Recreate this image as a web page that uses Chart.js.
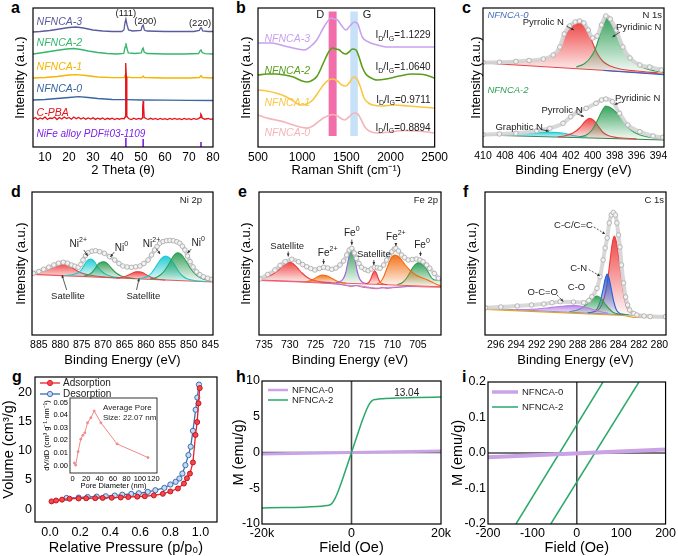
<!DOCTYPE html>
<html><head><meta charset="utf-8">
<script src="https://cdn.jsdelivr.net/npm/chart.js@4.4.1/dist/chart.umd.min.js"></script>
<style>
html,body{margin:0;padding:0;background:#fff;}
body{width:678px;height:556px;position:relative;overflow:hidden;font-family:"Liberation Sans",Arial,sans-serif;}
canvas{position:absolute;}
.pl{position:absolute;font-weight:bold;font-size:16px;line-height:16px;color:#000;}
</style></head><body>
<div class="pl" style="left:11px;top:0px">a</div>
<div class="pl" style="left:236px;top:0px">b</div>
<div class="pl" style="left:462px;top:0px">c</div>
<div class="pl" style="left:11px;top:184px">d</div>
<div class="pl" style="left:238px;top:184px">e</div>
<div class="pl" style="left:463px;top:184px">f</div>
<div class="pl" style="left:12px;top:369px">g</div>
<div class="pl" style="left:236px;top:369px">h</div>
<div class="pl" style="left:462px;top:369px">i</div>
<script>
// ---------------- DATA ----------------
// (a) XRD
const A_TICKS = [10,20,30,40,50,60,70,80];
const A_NFNCA3 = [[5,115],[8,115.5],[12,116.5],[16,118],[20,119.5],[23,120],[26,119],[30,117],[34,116],[38,115.5],[42,115.5],[42.9,117],[43.3,124],[43.7,128],[44.2,122],[44.8,117],[46.5,116],[50,116.5],[50.5,121],[50.9,122],[51.4,117],[52.5,116],[60,115.5],[66,115.5],[72,115.5],[74.3,116.5],[74.8,119],[75.2,119],[75.7,116],[78,115.5],[80,115.5]];
const A_NFNCA2 = [[5,93],[8,94],[12,95.5],[16,97],[19,98],[22,98.5],[25,97.5],[28,96],[32,94.5],[36,93.5],[40,93],[42.8,93.5],[43.4,100],[43.7,104],[44.1,99],[44.7,94],[47.5,93.5],[50.1,94],[50.6,98],[50.9,99],[51.3,95],[52.5,93.5],[60,93],[68,93],[74,93.5],[74.6,96],[75,97],[75.5,94.5],[76.5,93.3],[80,93]];
const A_NFNCA1 = [[5,69],[10,69.5],[15,70.5],[20,72],[23,72.3],[27,71.5],[32,70],[38,69.3],[43,69.5],[43.6,73],[44.1,70],[46,69.3],[50.4,69.5],[50.9,71],[51.4,69.5],[60,69],[70,69],[74.4,69.5],[75,71.5],[75.6,69.5],[80,69]];
const A_NFNCA0 = [[5,47],[10,47.5],[15,48.5],[20,49.5],[24,50.3],[28,49.5],[32,48.5],[38,47.5],[44,47.3],[50,47],[60,46.8],[70,46.7],[80,46.5]];
const A_CPBA = [[5,28],[6,29.5],[7,27.5],[8,29],[9,28],[10,30],[11,27.5],[12,29],[13,28.5],[14,30],[15,27.5],[16,29.5],[17,28],[18,30],[19,28.5],[20,29.5],[21,27.8],[22,30],[23,28.3],[24,29.5],[25,28],[26,29.3],[27,27.8],[28,29],[29,28],[30,29.2],[31,27.6],[32,28.8],[33,27.8],[34,29],[35,27.5],[36,28.7],[37,27.8],[38,28.8],[39,27.5],[40,28.6],[41,27.8],[42,28.5],[43,28.2],[43.35,30],[43.55,70],[43.7,84],[43.9,70],[44.1,31],[44.8,28.5],[46,27.5],[47,28.8],[48,27.6],[49,28.5],[50,27.8],[50.5,29],[50.7,40],[50.9,46],[51.1,40],[51.35,29.5],[52.5,28],[53,27.6],[54,28.7],[55,27.6],[56,28.6],[57,27.5],[58,28.5],[59,27.7],[60,28.4],[61,27.5],[62,28.6],[63,27.6],[64,28.5],[65,27.6],[66,28.4],[67,27.5],[68,28.6],[69,27.6],[70,28.4],[71,27.5],[72,28.5],[73,27.6],[74,28.4],[74.6,29.5],[74.9,33],[75.2,32],[75.5,29],[76.5,27.8],[78,28.5],[79,27.6],[80,28.2]];
const A_STICK_X = [43.7,50.9,75.0];
const A_STICK_H = [9,8,5];

// (b) Raman
const B_TICKS = [500,1000,1500,2000,2500];
const B_NFNCA3 = [[500,104],[650,104],[800,101],[950,98],[1020,97],[1100,101],[1165,107],[1240,119],[1300,127],[1330,129],[1360,128],[1400,127],[1450,121],[1495,117],[1540,121],[1590,125],[1630,123],[1660,115],[1680,110],[1750,105],[1850,102],[1950,100],[2100,100],[2300,100],[2500,100]];
const B_NFNCA2 = [[500,72],[600,73],[700,73],[800,72],[900,70],[1000,66],[1060,65],[1120,67],[1170,71],[1240,84],[1300,95],[1345,99],[1380,98],[1420,97],[1460,94],[1495,93],[1530,95],[1570,98],[1610,97],[1640,91],[1680,80],[1720,73],[1760,70],[1850,67],[1950,68],[2100,71],[2250,73],[2400,72],[2500,69]];
const B_NFNCA1 = [[500,57],[600,56],[700,54],[800,51],[900,46],[980,42],[1050,43],[1120,47],[1170,53],[1240,62],[1300,67],[1345,68],[1400,66],[1450,62],[1495,61],[1540,65],[1580,70],[1620,68],[1660,60],[1700,49],[1750,44],[1800,42],[1900,41],[2050,42],[2200,41],[2350,40],[2500,39]];
const B_NFNCA0 = [[500,32],[600,29],[700,27],[800,25],[900,22],[1000,19.5],[1060,19],[1120,21],[1180,25],[1240,29],[1300,31.5],[1345,32.5],[1400,31],[1450,28],[1480,27],[1530,30],[1585,34],[1630,33],[1670,27],[1710,20],[1760,16],[1850,14],[2000,15],[2150,16.5],[2300,16],[2500,14]];
const B_RATIOS = ['1.1229','1.0640','0.9711','0.8894'];

// (c) N 1s
const C_TICKS = [410,408,406,404,402,400,398,396,394];
const C0_BASE = [[410,84],[393.5,73]];
const C0_BLUE = [[399,76.5],[393.5,72.2]];
const C0_PYRROLIC = [[410,84.3],[407,85],[405,86.5],[404.2,88.5],[403.6,92],[403.0,99],[402.6,110],[402.1,119],[401.6,124],[401.2,125.3],[400.8,123],[400.4,116],[400.0,104],[399.6,94],[399.1,86],[398.4,81],[397.5,78],[396,76],[394,74]];
const C0_PYRIDINIC = [[401.5,80],[400.8,83],[400.3,88],[399.8,97],[399.4,110],[399.1,122],[398.8,130],[398.4,126],[397.9,116],[397.3,102],[396.7,90],[396,83],[395.2,78.5],[394.3,76],[393.5,74.5]];
const C0_ENV = [[410,84.5],[408.5,84.8],[407,85.5],[405.8,86.5],[404.5,88],[403.6,92],[403.0,100],[402.6,113],[402.1,121],[401.6,125],[401.2,126],[400.8,124],[400.4,117],[400.0,109],[399.6,111],[399.2,122],[398.8,131],[398.4,128],[397.85,117],[397.25,100],[396.6,89],[395.7,82],[394.8,80],[393.75,77]];
const C2_BASE = [[410,12],[393.5,7]];
const C2_GRAPHITIC = [[408.5,12],[407.5,12.6],[406.5,13.5],[405.5,14.4],[404.2,15],[403.2,14.5],[402.3,13],[401.5,11],[400.5,9.8]];
const C2_PYRROLIC = [[403.2,10.2],[402.5,11.3],[401.8,14],[401.2,19],[400.7,25.5],[400.3,28.7],[399.9,26.5],[399.5,21],[399.1,15],[398.6,11.5],[397.8,9.5],[396,8.2]];
const C2_PYRIDINIC = [[401.2,10],[400.5,12.5],[400,18],[399.6,26],[399.2,35],[398.8,41],[398.4,39.5],[397.9,35],[397.5,30],[397,22.5],[396.5,17],[395.8,12.5],[394.8,9.8],[393.5,8]];
const C2_ENV = [[410,12.3],[408.5,13],[407,13.7],[405.1,16.3],[403.9,18.7],[402.7,23.7],[402.0,30.3],[401.35,35.3],[400.6,38.7],[399.7,43.7],[399.2,47],[398.8,48],[398.2,45.3],[397.55,33.7],[396.8,22],[395.7,15.3],[394.5,11],[393.6,9.7]];

// (d) Ni 2p
const D_TICKS = [885,880,875,870,865,860,855,850,845];
const D_BASE = [[886.6,60.6],[844.35,53]];
const D_SAT1 = [[886.6,61.5],[885,63],[883.5,65.2],[882,67.8],[880.8,70.3],[879.7,71.7],[878.7,71],[877.7,68.8],[876.5,65.3],[875,62],[873,59.8],[870,58.2],[866,57]];
const D_NI2A = [[879,59.5],[877,60.5],[876,62],[875.2,64.5],[874.5,69],[873.9,73.5],[873.4,75.6],[872.9,76],[872.4,75],[871.8,72],[871.1,67.5],[870.3,63.5],[869.3,60.5],[868,58.5],[866,57.3]];
const D_NI0A = [[874.5,58.8],[873.5,60],[872.6,62.5],[871.8,67],[871,71.5],[870.4,73],[869.8,73.3],[869.2,72],[868.5,69],[867.7,65],[866.8,61.5],[865.8,59],[864.5,57.5],[862.5,56.5]];
const D_SAT2 = [[867,57],[865.5,57.8],[864.3,59.5],[863.2,61.8],[862.3,63.2],[861.5,63.3],[860.7,62.2],[859.8,60],[858.8,57.8],[857.5,56],[855.5,55]];
const D_NI2B = [[862,56.2],[860.5,57.3],[859.5,59],[858.6,62.5],[857.8,67.5],[857,73],[856.2,77.3],[855.4,79],[854.6,77.5],[853.8,73.5],[853,68],[852.2,62.5],[851.3,58.5],[850.3,56],[848.5,54.3],[846,53.5]];
const D_NI0B = [[859,56.2],[857.8,57.3],[856.8,59.5],[855.8,63.5],[855,68.5],[854.2,74.5],[853.5,79.5],[852.7,82.3],[851.9,81],[851.1,77],[850.3,71.5],[849.5,66],[848.6,61.3],[847.6,58],[846.5,55.7],[845.3,54.3],[844.35,53.8]];
const D_ENV = [[886.3,61.7],[885,63.5],[883.9,65.7],[882.7,67.8],[881.5,70],[880.4,71.8],[879.3,72.7],[878.3,71.8],[877.4,70],[876.6,68.8],[875.8,67.7],[875.2,70.5],[874.7,75],[874.1,79.5],[873.5,82.3],[872.6,83.8],[871.8,84.3],[870.8,83.3],[869.7,81.7],[868.5,78.3],[867.3,75],[866.3,71.5],[865.4,69],[864.4,68],[863.4,67.7],[862.4,68.2],[861.4,69],[860.5,71.5],[859.5,75],[858.7,80],[858.0,85],[857.4,88.5],[856.8,91.7],[856.0,93.5],[855.2,94.3],[854.4,94.6],[853.6,94.3],[852.8,93.3],[852.1,91.7],[851.5,88.8],[850.9,85],[850.3,79],[849.7,73.3],[849.0,68],[848.2,63.3],[847.4,60.3],[846.6,58.3],[845.6,56.8],[844.6,55.7]];

// (e) Fe 2p
const E_TICKS = [735,730,725,720,715,710,705];
const E_BASE = [[736,55],[700.5,48.3]];
const E_RESID1 = [[736,54.5],[732,53.8],[728,53],[724,52],[721,51.2],[719,49.5],[718,48.5],[717,49.5],[716,48],[714.5,47],[713,46.2],[712,47.5],[711,46.5],[710,47.2],[708.5,47.8],[707,48.5],[705,48.3],[703,48],[700.5,47.8]];
const E_RESID2 = [[724,52.2],[720,50.5],[718,49.5],[716,49],[714,47.3],[712.5,46.8],[711,47.6],[709,48],[706,48.6]];
const E_SAT1 = [[736,55.8],[735,57],[734,59],[733,62],[732,66],[731.2,70.5],[730.3,73.3],[729.4,71.5],[728.5,67],[727.6,62],[726.7,58],[725.6,55],[724,53.3],[722,52.5]];
const E_FE2A = [[727,53.3],[726,54.3],[725.2,56.3],[724.4,58.8],[723.6,60],[722.8,59.3],[722,57.3],[721.2,55],[720.3,53],[719,52]];
const E_FE0A = [[721,52.2],[720.2,53.3],[719.6,56],[719.1,62],[718.7,72],[718.3,81.5],[717.95,85],[717.6,82],[717.2,73],[716.8,63],[716.4,56.5],[715.9,53],[715,51.5]];
const E_SAT2 = [[715.2,51.2],[714.6,52.5],[714.2,56],[713.8,61.5],[713.45,64.3],[713.1,62],[712.8,57.5],[712.4,53],[711.8,51],[711,50.4]];
const E_FE2B = [[713,51],[712.3,53],[711.7,58],[711.1,66],[710.5,74],[709.9,79],[709.4,80],[708.8,78.5],[708.1,74.5],[707.3,69],[706.4,64],[705.4,60],[704.3,57.5],[703.3,55.5],[702.3,53],[701.3,50.5],[700.5,49.2]];
const E_FE0B = [[709,50.3],[708,52.5],[707.2,57],[706.4,64],[705.7,69.5],[705,72.3],[704.3,71.5],[703.6,68],[702.9,62],[702.3,57],[701.7,55],[701,55],[700.5,55]];
const E_ENV = [[735.8,56],[734.3,60.5],[732.9,65],[731.9,69.5],[730.9,73.3],[729.6,75.7],[728.3,73.3],[727.5,70.5],[726.7,68.3],[725.9,66.5],[725.1,65],[724.2,66.5],[723.4,67.7],[722.6,67],[721.8,65.7],[721,67],[720.2,70],[719.5,74],[718.9,80],[718.4,85],[717.9,86.7],[717.4,82],[717.0,76.7],[716.5,71.5],[716.0,67.7],[715.3,65.5],[714.7,64.3],[714.1,66],[713.5,67.7],[712.9,67.3],[712.4,66.7],[711.7,70],[711.1,75],[710.6,79.5],[710.1,83.3],[709.6,86],[709.3,86.7],[708.8,84],[708.2,80],[707.6,77.5],[706.9,75],[706.1,75.5],[705.3,76],[704.6,75],[704,73.3],[703.3,70],[702.7,66.7],[701.8,61.5],[701,56.7]];

// (f) C 1s
const F_TICKS = [296,294,292,290,288,286,284,282,280];
const F_BASE = [[297.05,26.7],[279.35,18.3]];
const F_BASE2 = [[297.05,25.6],[283.5,19.5],[282.5,17.6],[279.35,17.2]];
const F_CC = [[287,22.3],[286.3,23.5],[285.8,27],[285.4,37],[285.1,52],[284.85,72],[284.6,92],[284.4,99],[284.2,93],[283.95,76],[283.7,56],[283.45,38],[283.2,28],[282.9,23],[282.4,20.8],[281.5,20.2]];
const F_CN = [[287,22.2],[286.5,23],[286.1,26],[285.8,33],[285.5,46],[285.3,56],[285.1,61],[284.9,56],[284.7,46],[284.45,33],[284.2,25],[283.9,21.8],[283.3,20.5]];
const F_CO = [[288.8,23.5],[288.2,24.5],[287.6,27],[287.1,31],[286.6,36],[286.1,39],[285.7,36.5],[285.3,31],[284.9,26],[284.5,22.5],[284,21],[283,20.3]];
const F_OCO = [[294,25.3],[293,25.5],[292,26],[291,27],[290,28.3],[289,29.2],[288.3,29.5],[287.6,28.8],[287,27.2],[286.4,25.3],[285.7,23.2],[285,21.6]];
const F_ENV = [[297,27.3],[295.5,28],[293.9,29],[292.5,30],[291.3,31],[290.5,32.3],[289.7,33.3],[288.4,33],[287.4,32.3],[286.9,34.5],[286.6,38.3],[286.1,46.7],[285.8,58.3],[285.5,75],[285.3,87],[285.1,97],[284.9,112],[284.7,120],[284.5,122.5],[284.3,120],[284.15,112],[284.0,100],[283.85,88],[283.7,70],[283.5,52],[283.3,38],[283.1,30],[282.9,25],[282.5,21.5],[282.2,20],[281.5,19],[280.9,18.5],[279.4,18.3]];

// (g) N2 isotherm + inset
const G_XTICKS = [0,0.2,0.4,0.6,0.8,1.0];
const G_YTICKS = [0,5,10,15,20];
const ADS_P = [0.01,0.04,0.08,0.13,0.19,0.24,0.30,0.35,0.41,0.47,0.52,0.58,0.63,0.69,0.75,0.80,0.85,0.89,0.91,0.93,0.95,0.967,0.978,0.987,0.995];
const ADS_V = [1.35,1.5,1.65,1.8,1.85,1.88,1.9,1.95,1.98,2.02,2.1,2.16,2.23,2.38,2.65,3.05,3.55,4.4,5.3,6.1,8.0,12.7,14.9,18.1,20.7];
const DES_P = [0.11,0.19,0.25,0.31,0.37,0.43,0.48,0.54,0.59,0.65,0.70,0.76,0.80,0.835,0.86,0.88,0.90,0.92,0.935,0.95,0.968,0.979,0.99];
const DES_V = [1.94,2.0,2.1,2.17,2.23,2.34,2.5,2.63,2.74,2.97,3.26,3.66,4.23,4.69,5.26,6.11,7.54,9.26,10.7,13.4,17.0,19.1,21.3];
const PORE_D = [2.5,4.5,8,12,15,18,22,27,32,42,66,112];
const PORE_DV = [0.002,0.0003,0.011,0.021,0.024,0.026,0.034,0.038,0.0435,0.034,0.0172,0.0063];
const INSET_XTICKS = [0,20,40,60,80,100,120];
const INSET_YTICKS = [0,0.01,0.02,0.03,0.04,0.05];

// (h), (i) magnetization
const H_XTICKS = [-20000,0,20000];
const H_YTICKS = [-10,-5,0,5,10];
const H_NFNCA0 = [[-20000,-0.2],[20000,0.2]];
const H_NFNCA2 = [[-20000,-7.75],[-15000,-7.7],[-10000,-7.62],[-7000,-7.52],[-5500,-7.42],[-4600,-7.25],[-4000,-6.8],[-3300,-5.9],[-2500,-4.6],[-1500,-2.8],[-500,-0.95],[0,0],[500,0.95],[1500,2.8],[2500,4.6],[3300,5.9],[4000,6.8],[4600,7.25],[5500,7.42],[7000,7.52],[10000,7.62],[15000,7.7],[20000,7.75]];
const I_XTICKS = [-200,-100,0,100,200];
const I_YTICKS = [-0.2,-0.1,0,0.1,0.2];
const I_NFNCA0 = [[-200,-0.012],[200,0.010]];
const I_NFNCA2_UP = [[-137,-0.2],[59,0.2]];
const I_NFNCA2_DN = [[-58.6,-0.2],[140,0.2]];

// ---------------- HELPERS ----------------
const F = '"Liberation Sans", Arial, Helvetica, sans-serif';
const ANNO = {};
const P = a => a.map(p => ({x:p[0], y:p[1]}));
function rgba(hex,a){const n=parseInt(hex.slice(1),16);return 'rgba('+((n>>16)&255)+','+((n>>8)&255)+','+(n&255)+','+a+')';}
function gradFill(col, top, bot){
  return (c)=>{ const ch=c.chart, ca=ch.chartArea; if(!ca||!ch.scales||!ch.scales.y) return rgba(col,0.5);
    const y=ch.scales.y, y0=y.getPixelForValue(top), y1=y.getPixelForValue(bot)+1;
    const g=ch.ctx.createLinearGradient(0,y0,0,y1);
    g.addColorStop(0,rgba(col,0.95)); g.addColorStop(0.55,rgba(col,0.45)); g.addColorStop(1,rgba(col,0.03));
    return g; };
}
function line(data,col,w,extra){return Object.assign({data:P(data),showLine:true,borderColor:col,borderWidth:w,pointRadius:0,fill:false,tension:0},extra||{});}
function smooth(data,col,w,extra){return line(data,col,w,Object.assign({cubicInterpolationMode:'monotone'},extra||{}));}
function comp(data,col,base,lineCol){
  const ys=data.map(p=>p[1]);
  return {data:P(data),showLine:true,borderColor:lineCol||col,borderWidth:1.1,pointRadius:0,cubicInterpolationMode:'monotone',
    fill:{target:base},backgroundColor:gradFill(col,Math.max(...ys),Math.min(...ys))};
}
function env(data){return {data:P(data),showLine:true,borderColor:'rgba(214,214,214,0.95)',borderWidth:4,pointRadius:2.3,
  pointBackgroundColor:'#f2f2f2',pointBorderColor:'#a8a8a8',pointBorderWidth:0.8,cubicInterpolationMode:'monotone',fill:false};}

function drawRich(ctx,t,x,y,o){
  const size=o.size||10, it=o.italic?'italic ':'';
  const segs=(typeof t==='string')?[[t]]:t;
  const fontFor=s=>it+(s[1]?(size*0.7).toFixed(1):size)+'px '+F;
  let w=0; segs.forEach(s=>{ctx.font=fontFor(s); w+=ctx.measureText(s[0]).width;});
  let sx=o.align==='center'?x-w/2:o.align==='right'?x-w:x;
  ctx.fillStyle=o.color||'#222'; ctx.textBaseline='middle'; ctx.textAlign='left';
  segs.forEach(s=>{ctx.font=fontFor(s); const dy=s[1]==='sup'?-size*0.38:s[1]==='sub'?size*0.3:0;
    ctx.fillText(s[0],sx,y+dy); sx+=ctx.measureText(s[0]).width;});
}
function arrowTo(ctx,x1,y1,x2,y2,dash){
  ctx.save(); ctx.strokeStyle='#333'; ctx.fillStyle='#333'; ctx.lineWidth=0.8;
  if(dash) ctx.setLineDash([2,1.5]);
  ctx.beginPath(); ctx.moveTo(x1,y1); ctx.lineTo(x2,y2); ctx.stroke(); ctx.setLineDash([]);
  const a=Math.atan2(y2-y1,x2-x1), L=3.2;
  ctx.beginPath(); ctx.moveTo(x2,y2); ctx.lineTo(x2-L*Math.cos(a-0.45),y2-L*Math.sin(a-0.45));
  ctx.lineTo(x2-L*Math.cos(a+0.45),y2-L*Math.sin(a+0.45)); ctx.closePath(); ctx.fill(); ctx.restore();
}
const annoPlugin={
  id:'anno',
  beforeDatasetsDraw(chart){
    const a=ANNO[chart.canvas.id]; if(!a) return;
    const ctx=chart.ctx, ca=chart.chartArea, xs=chart.scales.x, ys=chart.scales.y;
    ctx.save(); ctx.beginPath(); ctx.rect(ca.left,ca.top,ca.width,ca.height); ctx.clip();
    (a.bands||[]).forEach(b=>{const x0=xs.getPixelForValue(b.x0),x1=xs.getPixelForValue(b.x1),y0=ys.getPixelForValue(b.y0),y1=ys.getPixelForValue(b.y1);
      ctx.fillStyle=b.color; ctx.fillRect(Math.min(x0,x1),Math.min(y0,y1),Math.abs(x1-x0),Math.abs(y1-y0));});
    if(a.zero){ctx.strokeStyle='#4a4a4a'; ctx.lineWidth=1.6; const px=xs.getPixelForValue(0), py=ys.getPixelForValue(0);
      ctx.beginPath(); ctx.moveTo(ca.left,py); ctx.lineTo(ca.right,py); ctx.moveTo(px,ca.top); ctx.lineTo(px,ca.bottom); ctx.stroke();}
    ctx.restore();
  },
  afterDatasetsDraw(chart){
    const a=ANNO[chart.canvas.id]; if(!a) return;
    const ctx=chart.ctx, ca=chart.chartArea, xs=chart.scales.x, ys=chart.scales.y;
    ctx.save();
    ctx.strokeStyle='#000'; ctx.lineWidth=a.boxw||1.2; ctx.strokeRect(ca.left,ca.top,ca.width,ca.height);
    const PX=t=>t.rx!==undefined?ca.left+t.rx:xs.getPixelForValue(t.x);
    const PY=t=>t.ry!==undefined?ca.top+t.ry:ys.getPixelForValue(t.y);
    (a.arrows||[]).forEach(r=>arrowTo(ctx,xs.getPixelForValue(r[0]),ys.getPixelForValue(r[1]),xs.getPixelForValue(r[2]),ys.getPixelForValue(r[3]),r[4]));
    (a.texts||[]).forEach(t=>drawRich(ctx,t.t,PX(t),PY(t),t));
    (a.legend||[]).forEach(l=>{
      const y=ca.top+l.y;
      ctx.strokeStyle=l.color; ctx.lineWidth=l.w; ctx.beginPath(); ctx.moveTo(ca.left+l.x0,y); ctx.lineTo(ca.left+l.x1,y); ctx.stroke();
      if(l.marker){const mx=ca.left+(l.x0+l.x1)/2; ctx.beginPath(); ctx.arc(mx,y,2.6,0,Math.PI*2); ctx.fillStyle=l.mfill; ctx.fill(); ctx.lineWidth=1; ctx.strokeStyle=l.color; ctx.stroke();}
      drawRich(ctx,l.label,ca.left+l.tx,y,{size:l.size||9.5,color:'#222',align:'left'});
    });
    ctx.restore();
  }
};
Chart.register(annoPlugin);

function panel(p){
  const cv=document.createElement('canvas');
  cv.id=p.id; cv.width=p.cw; cv.height=p.ch;
  cv.style.left=p.cx+'px'; cv.style.top=p.cy+'px';
  document.body.appendChild(cv);
  ANNO[p.id]=p.anno||{};
  const ds=p.datasets.map((d,i,arr)=>Object.assign({order:arr.length-i},d));
  const axis=(isX)=>{
    const ticks=isX?p.xticks:p.yticks;
    return {
      type:'linear', min:isX?p.xmin:p.ymin, max:isX?p.xmax:p.ymax, reverse:isX&&!!p.xrev,
      grid:{display:false,drawTicks:false}, border:{display:false},
      ticks:{display:!!ticks,autoSkip:false,maxRotation:0,padding:isX?(p.xtp||3):(p.ytp||3),color:'#000',
        font:{family:F,size:p.tfs},callback:(isX?p.xfmt:p.yfmt)||(v=>String(v))},
      afterBuildTicks:s=>{s.ticks=(ticks||[isX?p.xmin:p.ymin]).map(v=>({value:v}));},
      title:{display:true,text:isX?p.xtitle:p.ytitle,color:'#000',font:{family:F,size:p.tts},padding:0},
      afterFit:s=>{ if(isX) s.height=p.cy+p.ch-p.B; else s.width=p.L-p.cx; }
    };
  };
  return new Chart(cv,{type:'scatter',data:{datasets:ds},options:{responsive:false,animation:false,devicePixelRatio:1,
    layout:{padding:{left:0,top:p.T-p.cy,right:p.cx+p.cw-p.R,bottom:0}},
    plugins:{legend:{display:false},tooltip:{enabled:false}},
    scales:{x:axis(true),y:axis(false)}}});
}
const RED='#ee3b3b', GRN='#2e9e55', CYN='#1ccad2', ORG='#f26b0f', BLU='#2660d6', PUR='#b57ee6';
const T_ROW = 13, TK_SMALL = 10.5;

// ---------------- PANELS ----------------
// a
panel({id:'ca',cx:13,cy:0,cw:212,ch:178,L:33,T:8,R:213,B:147,xmin:5,xmax:80,ymin:0,ymax:139,
  xticks:A_TICKS,yticks:null,tfs:12,tts:T_ROW,xtp:3,xtitle:'2 Theta (θ)',ytitle:'Intensity (a.u.)',
  datasets:[
    ...A_STICK_X.map((x,i)=>line([[x,0],[x,A_STICK_H[i]]],'#7a1fe6',1.6)),
    line(A_NFNCA0,'#3866a0',1.3), line(A_NFNCA1,'#f5b400',1.3), line(A_NFNCA2,'#36b56c',1.3), line(A_NFNCA3,'#5b5b9e',1.3),
    line(A_CPBA,'#e5141a',1.3)
  ],
  anno:{texts:[
    {t:'NFNCA-3',x:6.5,y:125,color:'#5b5b9e',italic:true,size:10.5},
    {t:'NFNCA-2',x:6.5,y:103.7,color:'#36b56c',italic:true,size:10.5},
    {t:'NFNCA-1',x:6.5,y:80.3,color:'#f5b400',italic:true,size:10.5},
    {t:'NFNCA-0',x:6.5,y:57.7,color:'#3866a0',italic:true,size:10.5},
    {t:'C-PBA',x:6.5,y:33.7,color:'#e5141a',italic:true,size:10.5},
    {t:'NiFe alloy PDF#03-1109',x:6.5,y:12.7,color:'#7a1fe6',italic:true,size:10},
    {t:'(111)',x:43.7,y:133.5,align:'center',size:9.5},
    {t:'(200)',x:51.8,y:126,align:'center',size:9.5},
    {t:'(220)',x:74.6,y:123.7,align:'center',size:9.5}
  ]}
});
// b
panel({id:'cb',cx:239,cy:0,cw:212,ch:178,L:258,T:8,R:439,B:147,xmin:500,xmax:2500,ymin:0,ymax:139,
  xticks:B_TICKS,yticks:null,tfs:12,tts:T_ROW,xtp:3,xtitle:'Raman Shift (cm⁻¹)',ytitle:'Intensity (a.u.)',
  datasets:[
    smooth(B_NFNCA0,'#f5b5b8',1.6), smooth(B_NFNCA1,'#f8c845',1.6), smooth(B_NFNCA2,'#5a9e1c',1.6), smooth(B_NFNCA3,'#c8a2ec',1.6)
  ],
  anno:{bands:[{x0:1300,x1:1390,y0:11,y1:135.5,color:'rgba(240,85,155,0.85)'},{x0:1545,x1:1630,y0:11,y1:135.5,color:'rgba(175,212,245,0.7)'}],
   texts:[
    {t:'D',x:1205,y:132,size:11,align:'center'},{t:'G',x:1735,y:132,size:11,align:'center'},
    {t:'NFNCA-3',x:574,y:108,color:'#c8a2ec',italic:true,size:10.5},
    {t:'NFNCA-2',x:574,y:76,color:'#5a9e1c',italic:true,size:10.5},
    {t:'NFNCA-1',x:574,y:44,color:'#f8c845',italic:true,size:10.5},
    {t:'NFNCA-0',x:574,y:14,color:'#f5b5b8',italic:true,size:10.5},
    ...[111.3,79.3,47,18.7].map((yy,i)=>({t:[['I'],['D','sub'],['/I'],['G','sub'],['='+B_RATIOS[i]]],x:2455,y:yy,align:'right',size:10}))
  ]}
});
// c
panel({id:'cc',cx:469,cy:0,cw:209,ch:178,L:483,T:8,R:664,B:147,xmin:393.5,xmax:410,xrev:true,ymin:0,ymax:139,
  xticks:C_TICKS,yticks:null,tfs:TK_SMALL,tts:T_ROW,xtp:3,xtitle:'Binding Energy (eV)',ytitle:'Intensity (a.u.)',
  datasets:[
    line(C0_BASE,'#e8464a',1.1), comp(C0_PYRROLIC,RED,0), comp(C0_PYRIDINIC,GRN,0), line(C0_BLUE,BLU,1.1), env(C0_ENV),
    line(C2_BASE,'#3d7a4a',1.1), comp(C2_GRAPHITIC,CYN,5), comp(C2_PYRROLIC,RED,5), comp(C2_PYRIDINIC,GRN,5), env(C2_ENV)
  ],
  anno:{texts:[
    {t:'NFNCA-0',x:409.6,y:132,color:'#3f6fb5',italic:true,size:9.5},
    {t:'N 1s',rx:179,ry:7.5,align:'right',size:9.5},
    {t:'Pyrrolic N',x:404.5,y:125,align:'center',size:9.5},
    {t:'Pyridinic N',x:395.8,y:120,align:'center',size:9.5},
    {t:'NFNCA-2',x:409.6,y:57,color:'#2e9e55',italic:true,size:9.5},
    {t:'Pyridinic N',x:395.9,y:49,align:'center',size:9.5},
    {t:'Pyrrolic N',x:402.8,y:37,align:'center',size:9.5},
    {t:'Graphitic N',x:406.7,y:20,align:'center',size:9.5}
   ],
   arrows:[[402.4,121,401.7,117],[397.5,115,398.2,110],[397.4,45,398.0,42.5],[401.4,33,400.8,30.5],[404.7,17.5,404.0,15.8]]}
});
// d
panel({id:'cd',cx:14,cy:180,cw:211,ch:188,L:32,T:192,R:213,B:335,xmin:844.35,xmax:886.6,xrev:true,ymin:0,ymax:143,
  xticks:D_TICKS,yticks:null,tfs:TK_SMALL,tts:T_ROW,xtp:4,xtitle:'Binding Energy (eV)',ytitle:'Intensity (a.u.)',
  datasets:[
    line(D_BASE,'#ef5a5a',1.2), comp(D_SAT1,RED,0), comp(D_NI2A,CYN,0), comp(D_NI0A,GRN,0), comp(D_SAT2,RED,0),
    comp(D_NI2B,CYN,0), comp(D_NI0B,GRN,0), env(D_ENV)
  ],
  anno:{texts:[
    {t:'Ni 2p',rx:170,ry:8,align:'right',size:9.5},
    {t:[['Ni'],['2+','sup']],x:875.8,y:91,align:'center',size:10},
    {t:[['Ni'],['0','sup']],x:865.7,y:86.7,align:'center',size:10},
    {t:[['Ni'],['2+','sup']],x:858.7,y:91,align:'center',size:10},
    {t:[['Ni'],['0','sup']],x:847.8,y:91.7,align:'center',size:10},
    {t:'Satellite',x:878.2,y:38.3,align:'center',size:9.5},
    {t:'Satellite',x:860.6,y:39,align:'center',size:9.5}
   ],
   arrows:[[878.5,45,879.6,60],[862.2,45,861.6,56.5],[874.5,85,873.6,79],[867.4,83,868.3,78],[857.5,86,856.7,81],[849.4,86,850.3,82]]}
});
// e
panel({id:'ce',cx:239,cy:180,cw:212,ch:188,L:259,T:192,R:441,B:335,xmin:700.5,xmax:736,xrev:true,ymin:0,ymax:143,
  xticks:E_TICKS,yticks:null,tfs:TK_SMALL,tts:T_ROW,xtp:4,xtitle:'Binding Energy (eV)',ytitle:'Intensity (a.u.)',
  datasets:[
    line(E_BASE,'#ef5a5a',1.1), smooth(E_RESID1,'#e8607a',1), smooth(E_RESID2,'#a878d8',0.9),
    comp(E_SAT1,RED,0), comp(E_FE2A,ORG,0), comp(E_FE0A,GRN,0,'#a05ee0'), comp(E_SAT2,RED,0),
    comp(E_FE0B,GRN,0), comp(E_FE2B,ORG,0), env(E_ENV)
  ],
  anno:{texts:[
    {t:'Fe 2p',rx:179,ry:8,align:'right',size:9.5},
    {t:'Satellite',x:730.5,y:89,align:'center',size:9.5},
    {t:[['Fe'],['2+','sup']],x:722.6,y:82,align:'center',size:10},
    {t:[['Fe'],['0','sup']],x:717.9,y:102,align:'center',size:10},
    {t:'Satellite',x:713.6,y:81,align:'center',size:9.5},
    {t:[['Fe'],['2+','sup']],x:709.3,y:98,align:'center',size:10},
    {t:[['Fe'],['0','sup']],x:704.2,y:90,align:'center',size:10}
   ],
   arrows:[[730.3,83.5,730.3,78.5],[723.4,76,723.4,71],[717.9,95.5,717.9,90],[713.6,75,713.6,70],[709.3,91.5,709.3,89],[704.5,83.5,704.5,79]]}
});
// f
panel({id:'cf',cx:465,cy:180,cw:213,ch:188,L:485,T:192,R:666,B:335,xmin:279.35,xmax:297.05,xrev:true,ymin:0,ymax:143,
  xticks:F_TICKS,yticks:null,tfs:TK_SMALL,tts:T_ROW,xtp:4,xtitle:'Binding Energy (eV)',ytitle:'Intensity (a.u.)',
  datasets:[
    line(F_BASE2,'#e8a020',1.1), line(F_BASE,'#9a9a9a',1.1), comp(F_CC,RED,1), comp(F_CN,BLU,1), comp(F_CO,GRN,1), comp(F_OCO,PUR,1), env(F_ENV)
  ],
  anno:{texts:[
    {t:'C 1s',rx:179,ry:8,align:'right',size:9.5},
    {t:'C-C/C=C',x:288.4,y:110,align:'center',size:9.5},
    {t:'C-N',x:287.9,y:67,align:'center',size:9.5},
    {t:'C-O',x:288.1,y:48,align:'center',size:9.5},
    {t:'O-C=O',x:291.4,y:43,align:'center',size:9.5}
   ],
   arrows:[[286.4,108,285.3,101,true],[286.9,65.5,285.8,59,true],[290.0,40,289.4,33.5,true]]}
});
// g
panel({id:'cg',cx:0,cy:365,cw:225,ch:192,L:35,T:377,R:217,B:522,xmin:-0.1,xmax:1.11,ymin:-2.17,ymax:22.6,
  xticks:G_XTICKS,yticks:G_YTICKS,tfs:12.5,tts:14.5,xtp:3,ytp:3,xfmt:v=>v.toFixed(1),
  xtitle:'Relative Pressure (p/p₀)',ytitle:'Volume (cm³/g)',
  datasets:[
    {data:DES_P.map((x,i)=>({x,y:DES_V[i]})),showLine:true,borderColor:'#3a6db0',borderWidth:1.3,pointRadius:2.6,pointStyle:'circle',
      pointBackgroundColor:'#c7daf0',pointBorderColor:'#3a6db0',pointBorderWidth:1,fill:false},
    {data:ADS_P.map((x,i)=>({x,y:ADS_V[i]})),showLine:true,borderColor:'#e8202a',borderWidth:1.3,pointRadius:2.5,pointStyle:'circle',
      pointBackgroundColor:'#f04a50',pointBorderColor:'#c8141c',pointBorderWidth:1,fill:false}
  ],
  anno:{legend:[
    {x0:5,x1:25,y:6,color:'#e8202a',w:1.3,marker:true,mfill:'#f04a50',label:'Adsorption',tx:28,size:10},
    {x0:5,x1:25,y:17,color:'#3a6db0',w:1.3,marker:true,mfill:'#c7daf0',label:'Desorption',tx:28,size:10}
  ]}
});
// g inset
panel({id:'cgi',cx:42,cy:390,cw:125,ch:100,L:70,T:398,R:157,B:473,xmin:-4,xmax:125.4,ymin:-0.006,ymax:0.0538,
  xticks:INSET_XTICKS,yticks:INSET_YTICKS,tfs:7.5,tts:7.5,xtp:1,ytp:2,yfmt:v=>v.toFixed(2),
  xtitle:'Pore Diameter (nm)',ytitle:'dV/dD (cm³ g⁻¹·nm⁻¹)',
  datasets:[ {data:PORE_D.map((x,i)=>({x,y:PORE_DV[i]})),showLine:true,borderColor:'#f08a8a',borderWidth:1,pointRadius:1,pointBackgroundColor:'#f08a8a',pointBorderColor:'#f08a8a',fill:false} ],
  anno:{boxw:0.8,texts:[{t:'Average Pore',x:45,y:0.0456,size:8},{t:'Size: 22.07 nm',x:45,y:0.0381,size:8}]}
});
// h
panel({id:'ch',cx:230,cy:365,cw:224,ch:192,L:262,T:381,R:441,B:524,xmin:-20000,xmax:20000,ymin:-10,ymax:10,
  xticks:H_XTICKS,yticks:H_YTICKS,tfs:12.5,tts:14.5,xtp:2,ytp:2,xfmt:v=>v===0?'0':(v/1000)+'k',
  xtitle:'Field (Oe)',ytitle:'M (emu/g)',
  datasets:[ line(H_NFNCA0,'#c9a3e6',3), smooth(H_NFNCA2,'#2aa86a',1.5) ],
  anno:{zero:true,texts:[{t:'13.04',x:12335,y:8.3,align:'center',size:10}],
   legend:[{x0:6,x1:26,y:9,color:'#c9a3e6',w:2.5,label:'NFNCA-0',tx:30,size:9.5},{x0:6,x1:26,y:19,color:'#2aa86a',w:1.5,label:'NFNCA-2',tx:30,size:9.5}]}
});
// i
panel({id:'ci',cx:449,cy:365,cw:229,ch:192,L:488,T:382,R:667,B:524,xmin:-200,xmax:200,ymin:-0.2,ymax:0.2,
  xticks:I_XTICKS,yticks:I_YTICKS,tfs:12.5,tts:14.5,xtp:2,ytp:2,yfmt:v=>v.toFixed(1),
  xtitle:'Field (Oe)',ytitle:'M (emu/g)',
  datasets:[ line(I_NFNCA2_UP,'#2aa86a',1.5), line(I_NFNCA2_DN,'#2aa86a',1.5), line(I_NFNCA0,'#c9a3e6',4) ],
  anno:{zero:true,legend:[{x0:4,x1:30,y:10,color:'#c9a3e6',w:3.5,label:'NFNCA-0',tx:34,size:9.5},{x0:4,x1:30,y:25,color:'#2aa86a',w:1.5,label:'NFNCA-2',tx:34,size:9.5}]}
});
</script>
</body></html>
